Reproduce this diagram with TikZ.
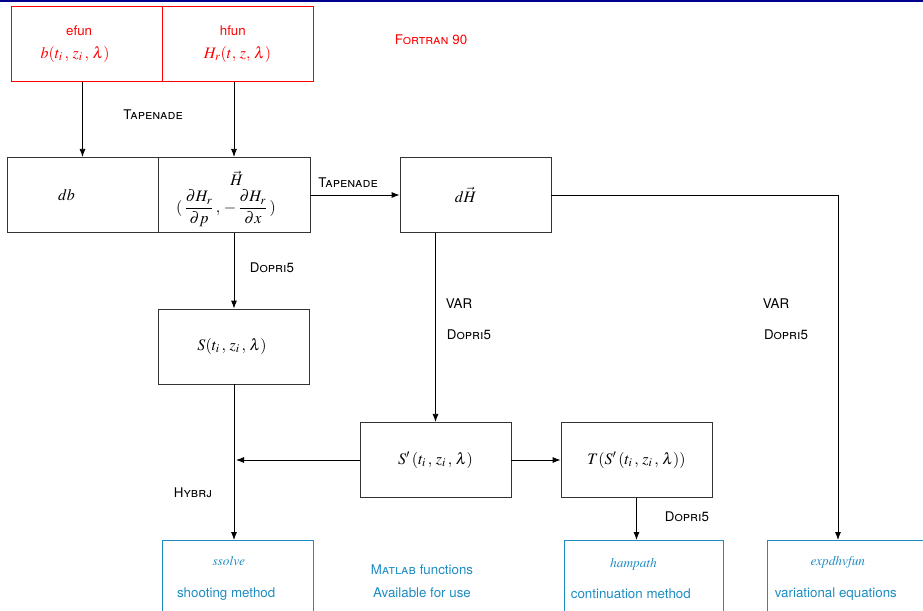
\documentclass[tikz,border=0pt]{standalone}
\usepackage{amsmath}
\usepackage{mathptmx}
\usepackage[no-math]{fontspec}
\setmainfont{TeX Gyre Heros}
\usetikzlibrary{positioning,arrows.meta,calc}
\definecolor{navybar}{RGB}{0,0,140}
\definecolor{fortred}{RGB}{255,0,0}
\definecolor{matblue}{RGB}{30,140,195}

\begin{document}
\begin{tikzpicture}[x=0.75pt,y=-0.75pt,
 box/.style={draw=black!80,line width=0.6pt,minimum width=113.25pt,minimum height=56.5pt,align=center,inner sep=2pt},
 fortbox/.style={box,draw=fortred,line width=0.75pt,text=fortred,minimum height=55.5pt},
 matbox/.style={box,draw=matblue,line width=0.7pt,text=matblue,minimum height=57pt},
 lab/.style={font=\normalsize,inner sep=1pt},
 arr/.style={-{Latex[length=6pt,width=4.5pt]},line width=0.6pt}]
\clip (0,0) rectangle (923,610);
\useasboundingbox (0,0) rectangle (923,610);
\fill[navybar] (0,0) rectangle (923,2);
% Fortran 90 part
\node[fortbox] (efun) at (86.5,44) {\hspace*{-11pt}efun\\[5pt]{\large$b(t_i\,,\,z_i\,,\,\lambda)$}\hspace*{17pt}};
\node[fortbox] (hfun) at (237.5,44) {\hspace*{-7pt}hfun\\[5pt]{\large$H_r(t,\,z,\,\lambda)$}};
\node[lab,text=fortred] (fort) at (431,40) {\textsc{Fortran} 90};
% derived functions
\node[box] (db) at (82.5,195) {{\large$db$}\hspace*{24pt}};
\node[box,minimum width=114pt] (ham) at (234,195) {\rule{0pt}{17pt}{\large$\vec{H}$}\hspace*{-4pt}\\[2pt]{\large$(\,\dfrac{\partial H_r}{\partial p}\,,\,-\,\dfrac{\partial H_r}{\partial x}\,)$}\hspace*{12pt}};
\node[box] (dham) at (475.5,195) {{\large$d\vec{H}$}\hspace*{15pt}};
\node[box,minimum height=56.25pt] (S) at (234,346.5) {{\large$S(t_i\,,\,z_i\,,\,\lambda)$}\hspace*{3pt}};
\node[box] (Sp) at (435.5,460) {\large$S'\,(t_i\,,\,z_i\,,\,\lambda)$};
\node[box] (T) at (636.5,460) {\large$T(S'\,(t_i\,,\,z_i\,,\,\lambda))$};
% Matlab part
\node[matbox] (ssolve) at (237.5,578.5) {$\mathit{ssolve}$\hspace*{13pt}\\[11.5pt]shooting method\hspace*{17pt}};
\node[matbox,minimum width=119.25pt] (hampath) at (643.5,578.5) {$\mathit{hampath}$\hspace*{15pt}\\[11.5pt]continuation method\hspace*{19pt}};
\node[matbox,minimum width=119.25pt] (expd) at (846.5,578.5) {$\mathit{expdhvfun}$\hspace*{13pt}\\[11.5pt]variational equations\hspace*{16pt}};
\node[lab,text=matblue,align=center] (mat) at (422,581) {\textsc{Matlab} functions\\[5pt]Available for use};
% labels
\node[lab] (tap1) at (153,115) {\textsc{Tapenade}};
\node[lab] (tap2) at (348,183) {\textsc{Tapenade}};
\node[lab] (dop1) at (272,268) {\textsc{Dopri5}};
\node[lab] (var1) at (459,304) {VAR};
\node[lab] (dop2) at (469,335) {\textsc{Dopri5}};
\node[lab] (var2) at (776,304) {VAR};
\node[lab] (dop3) at (786,335) {\textsc{Dopri5}};
\node[lab] (hyb) at (193,493) {\textsc{Hybrj}};
\node[lab] (dop4) at (687,517) {\textsc{Dopri5}};
% connectors
\draw[arr] (db.north |- efun.south) -- (db.north);
\draw[arr] (ham.north |- hfun.south) -- (ham.north);
\draw[arr] (ham.east) -- (dham.west);
\draw[arr] (dham.east) -| ([xshift=-6.4pt]expd.north);
\draw[arr] (dham.south -| Sp.north) -- (Sp.north);
\draw[arr] (ham.south) -- (S.north);
\draw[arr] (S.south) -- (S.south |- ssolve.north);
\draw[arr] (Sp.west) -- ($(Sp.west -| S.south)+(2,0)$);
\draw[arr] (Sp.east) -- (T.west);
\draw[arr] (T.south) -- (T.south |- hampath.north);
\end{tikzpicture}
\end{document}
